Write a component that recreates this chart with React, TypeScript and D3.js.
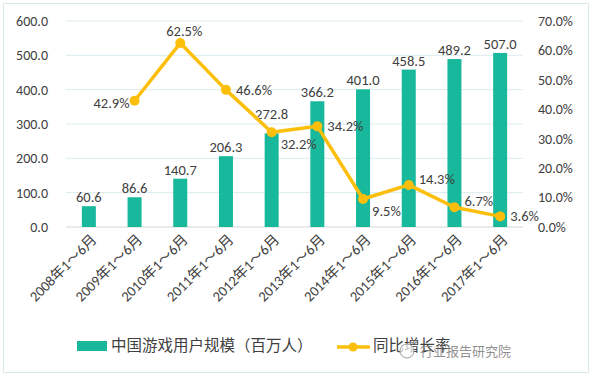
import React from "react";
import * as d3 from "d3";

const categories = [
  "2008年1～6月", "2009年1～6月", "2010年1～6月", "2011年1～6月", "2012年1～6月",
  "2013年1～6月", "2014年1～6月", "2015年1～6月", "2016年1～6月", "2017年1～6月",
];
const users = [60.6, 86.6, 140.7, 206.3, 272.8, 366.2, 401.0, 458.5, 489.2, 507.0];
const growth: (number | null)[] = [null, 42.9, 62.5, 46.6, 32.2, 34.2, 9.5, 14.3, 6.7, 3.6];
const leftTicks = [0, 100, 200, 300, 400, 500, 600];
const rightTicks = [0, 10, 20, 30, 40, 50, 60, 70];
const growthLabelPlacement = ["", "left", "above", "right", "belowRight", "right", "belowRight", "upRight", "upRight", "right"];
const barLabelRaise = [0, 0, 0, 0, 10, 0, 0, 0, 0, 0];

const W = 592, H = 376;
const M = { left: 66, right: 523, top: 21, bottom: 227 };
const TEAL = "#17b89b";
const GOLD = "#fbbf0b";
const TXT = "#404040";
const FONT = "Calibri, 'Liberation Sans', 'Noto Sans CJK SC', sans-serif";

export default function App() {
  const x = d3.scaleBand<string>().domain(categories).range([M.left, M.right]).paddingInner(0).paddingOuter(0);
  const yL = d3.scaleLinear().domain([0, 600]).range([M.bottom, M.top]);
  const yR = d3.scaleLinear().domain([0, 70]).range([M.bottom, M.top]);
  const barW = 14;
  const cx = (c: string) => (x(c) as number) + x.bandwidth() / 2;

  const pts = categories
    .map((c, i) => ({ c, v: growth[i], i }))
    .filter((d) => d.v !== null) as { c: string; v: number; i: number }[];
  const line = d3.line<{ c: string; v: number }>().x((d) => cx(d.c)).y((d) => yR(d.v));

  const labelPos = (p: string, px: number, py: number) => {
    switch (p) {
      case "left": return { x: px - 5, y: py + 2, anchor: "end" };
      case "above": return { x: px + 4, y: py - 12, anchor: "middle" };
      case "right": return { x: px + 10, y: py, anchor: "start" };
      case "belowRight": return { x: px + 9, y: py + 12, anchor: "start" };
      case "upRight": return { x: px + 10, y: py - 6, anchor: "start" };
      default: return { x: px, y: py, anchor: "middle" };
    }
  };

  return (
    <svg width={W} height={H} style={{ position: "absolute", left: 0, top: 0, background: "#fff" }} fontFamily={FONT}>
      <rect x={3.5} y={3.5} width={585} height={369} fill="#fff" stroke="#d6ebe8" strokeWidth={1} />
      {leftTicks.map((t) => (
        <line key={"g" + t} x1={M.left} x2={M.right} y1={yL(t)} y2={yL(t)} stroke={t === 0 ? "#d0d8da" : "#dcebee"} strokeWidth={1} />
      ))}
      {leftTicks.map((t) => (
        <text key={"l" + t} x={48} y={yL(t)} dy="0.35em" textAnchor="end" fontSize={14} fill={TXT}>{t.toFixed(1)}</text>
      ))}
      {rightTicks.map((t) => (
        <text key={"r" + t} x={538} y={yR(t)} dy="0.35em" textAnchor="start" fontSize={14} fill={TXT}>{t.toFixed(1) + "%"}</text>
      ))}
      {categories.map((c, i) => (
        <rect key={"b" + c} x={cx(c) - barW / 2} y={yL(users[i])} width={barW} height={yL(0) - yL(users[i])} fill={TEAL} />
      ))}
      {categories.map((c, i) => (
        <text key={"bl" + c} x={cx(c)} y={yL(users[i]) - 4 - barLabelRaise[i]} textAnchor="middle" fontSize={14.5} fill={TXT}>{users[i].toFixed(1)}</text>
      ))}
      <path d={line(pts) || ""} fill="none" stroke={GOLD} strokeWidth={3.5} strokeLinejoin="round" />
      {pts.map((d) => (
        <circle key={"p" + d.c} cx={cx(d.c)} cy={yR(d.v)} r={5} fill={GOLD} />
      ))}
      {pts.map((d) => {
        const lp = labelPos(growthLabelPlacement[d.i], cx(d.c), yR(d.v));
        return (
          <text key={"pl" + d.c} x={lp.x} y={lp.y} dy="0.35em" textAnchor={lp.anchor as any} fontSize={14.5} fill={TXT}>{d.v.toFixed(1) + "%"}</text>
        );
      })}
      {categories.map((c) => (
        <text key={"x" + c} transform={`translate(${cx(c) + 5},${237}) rotate(-45)`} textAnchor="end" dy="0.35em" fontSize={14.5} fill={TXT}>{c}</text>
      ))}
      <rect x={77} y={341} width={30} height={10} fill={TEAL} />
      <text x={111} y={346} dy="0.35em" fontSize={15.5} fill={TXT}>中国游戏用户规模（百万人）</text>
      <line x1={337} x2={370} y1={347} y2={347} stroke={GOLD} strokeWidth={3.5} />
      <circle cx={353} cy={347} r={4.5} fill={GOLD} />
      <text x={373} y={346} dy="0.35em" fontSize={15.5} fill={TXT}>同比增长率</text>
      <circle cx={407} cy={351} r={7} fill="#fff" fillOpacity={0.7} stroke="#9a9a9a" strokeWidth={1} />
      <text x={420} y={351} dy="0.35em" fontSize={13} fill="#7a7a7a" fillOpacity={0.85}>行业报告研究院</text>
    </svg>
  );
}
